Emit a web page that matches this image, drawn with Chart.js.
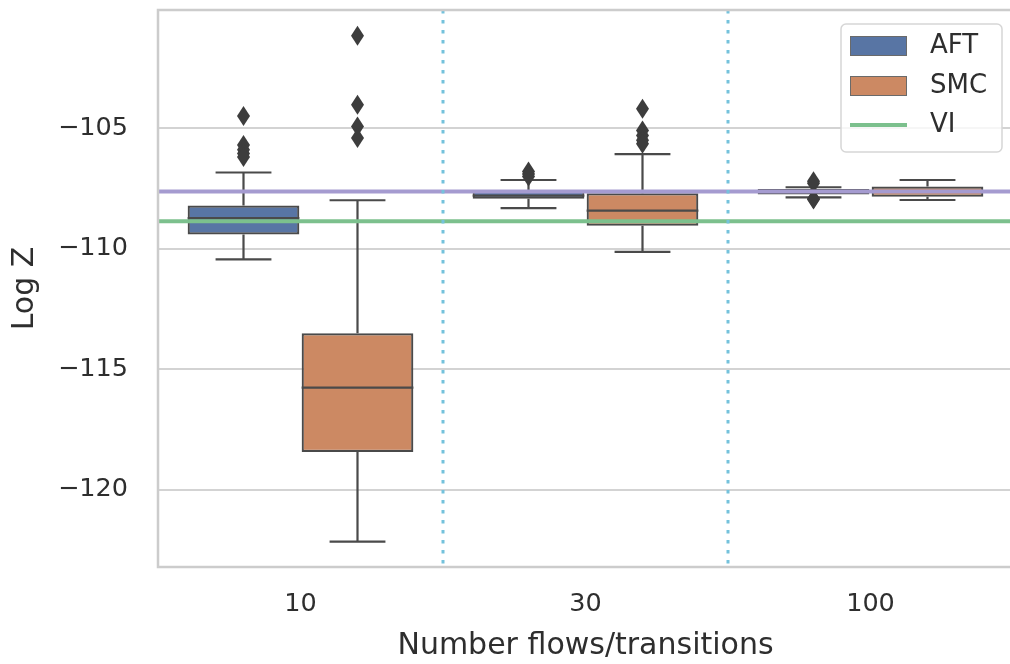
<!DOCTYPE html>
<html>
<head>
<meta charset="utf-8">
<script src="https://cdn.jsdelivr.net/npm/chart.js@4.4.1/dist/chart.umd.min.js"></script>
<style>
  html, body { margin: 0; padding: 0; background: #fff; overflow: hidden; }
  #wrap { width: 1016px; height: 664px; }
</style>
</head>
<body>
<div id="wrap"><canvas id="chart" width="1016" height="664"></canvas></div>
<script>
/* =========================
   DATA
========================= */
const categories = ["10", "30", "100"];
const seriesNames = ["AFT", "SMC"];
const yTicks = [-120, -115, -110, -105];

const aftLow    = [-110.44, -108.32, -107.87];
const aftQ1     = [-109.41, -107.93, -107.75];
const aftMedian = [-108.73, -107.80, -107.62];
const aftQ3     = [-108.21, -107.56, -107.52];
const aftHigh   = [-106.84, -107.15, -107.45];
const aftOutliers = [
  [-104.5, -105.7, -105.9, -106.05, -106.2],
  [-106.8, -106.9, -107.0],
  [-107.2, -107.28, -107.93, -107.96]
];

const smcLow    = [-122.15, -110.13, -107.98];
const smcQ1     = [-118.43, -109.05, -107.84];
const smcMedian = [-115.76, -108.42, -107.63];
const smcQ3     = [-113.51, -107.70, -107.42];
const smcHigh   = [-107.99, -106.08, -107.15];
const smcOutliers = [
  [-101.17, -104.03, -104.93, -105.41],
  [-104.2, -105.1, -105.3, -105.5, -105.65],
  []
];

const viValue = -108.86;     // green, in legend
const otherValue = -107.63;  // purple, no legend entry
const separators = [0.5, 1.5];

/* =========================
   STYLE
========================= */
const boxColors = ["#5875a4", "#cc8963"];
const lineGray = "#4a4a4a";
const fliersGray = "#3d3d3d";
const textColor = "#2e2e2e";
const font = "DejaVu Sans";

const stats = [
  { low: aftLow, q1: aftQ1, med: aftMedian, q3: aftQ3, high: aftHigh, out: aftOutliers },
  { low: smcLow, q1: smcQ1, med: smcMedian, q3: smcQ3, high: smcHigh, out: smcOutliers }
];

/* =========================
   BOX PLOT EXTRAS
========================= */
const boxExtras = {
  id: "boxExtras",
  afterDatasetsDraw(chart) {
    const { ctx, chartArea: a, scales: { x, y } } = chart;
    ctx.save();

    // whiskers, caps, medians, fliers
    stats.forEach((s, di) => {
      const meta = chart.getDatasetMeta(di);
      meta.data.forEach((bar, i) => {
        const cx = bar.x;
        const half = bar.width / 2;
        const pHigh = y.getPixelForValue(s.high[i]);
        const pLow = y.getPixelForValue(s.low[i]);
        ctx.strokeStyle = lineGray;
        ctx.lineWidth = 2.2;
        ctx.beginPath();
        ctx.moveTo(cx, y.getPixelForValue(s.q3[i]));
        ctx.lineTo(cx, pHigh);
        ctx.moveTo(cx, y.getPixelForValue(s.q1[i]));
        ctx.lineTo(cx, pLow);
        ctx.moveTo(cx - half / 2, pHigh);
        ctx.lineTo(cx + half / 2, pHigh);
        ctx.moveTo(cx - half / 2, pLow);
        ctx.lineTo(cx + half / 2, pLow);
        ctx.moveTo(cx - half, y.getPixelForValue(s.med[i]));
        ctx.lineTo(cx + half, y.getPixelForValue(s.med[i]));
        ctx.stroke();

        ctx.fillStyle = fliersGray;
        s.out[i].forEach(v => {
          const py = y.getPixelForValue(v);
          ctx.beginPath();
          ctx.moveTo(cx, py - 10);
          ctx.lineTo(cx + 6.5, py);
          ctx.lineTo(cx, py + 10);
          ctx.lineTo(cx - 6.5, py);
          ctx.closePath();
          ctx.fill();
        });
      });
    });

    // horizontal reference lines
    [[otherValue, "#a59bd0"], [viValue, "#7cc08d"]].forEach(([v, c]) => {
      const py = y.getPixelForValue(v);
      ctx.strokeStyle = c;
      ctx.lineWidth = 4;
      ctx.beginPath();
      ctx.moveTo(a.left, py);
      ctx.lineTo(a.right, py);
      ctx.stroke();
    });

    // dotted separators between categories
    ctx.strokeStyle = "#74c2dc";
    ctx.lineWidth = 3;
    ctx.setLineDash([3.5, 6.5]);
    separators.forEach(v => {
      const px = x.getPixelForValue(v);
      ctx.beginPath();
      ctx.moveTo(px, a.top);
      ctx.lineTo(px, a.bottom);
      ctx.stroke();
    });
    ctx.setLineDash([]);

    // spines
    ctx.strokeStyle = "#cccccc";
    ctx.lineWidth = 2.5;
    ctx.strokeRect(a.left, a.top, a.right - a.left, a.bottom - a.top);

    // legend
    const lx = 841, ly = 24, lw = 161, lh = 128;
    ctx.fillStyle = "rgba(255,255,255,0.8)";
    ctx.strokeStyle = "#d6d6d6";
    ctx.lineWidth = 1.5;
    ctx.beginPath();
    ctx.roundRect(lx, ly, lw, lh, 5);
    ctx.fill();
    ctx.stroke();

    ctx.font = "26px '" + font + "'";
    ctx.textBaseline = "middle";
    ctx.textAlign = "left";
    const rows = [46, 86, 125];
    seriesNames.forEach((name, i) => {
      ctx.fillStyle = boxColors[i];
      ctx.fillRect(850, rows[i] - 10, 57, 20);
      ctx.strokeStyle = "#6a6a6a";
      ctx.lineWidth = 1;
      ctx.strokeRect(850.5, rows[i] - 9.5, 56, 19);
      ctx.fillStyle = textColor;
      ctx.fillText(name, 930, rows[i]);
    });
    ctx.strokeStyle = "#7cc08d";
    ctx.lineWidth = 4;
    ctx.beginPath();
    ctx.moveTo(850, rows[2]);
    ctx.lineTo(907, rows[2]);
    ctx.stroke();
    ctx.fillStyle = textColor;
    ctx.fillText("VI", 930, rows[2]);

    ctx.restore();
  }
};

function noPad(s) {
  s.paddingTop = 0;
  s.paddingBottom = 0;
  s.paddingLeft = 0;
  s.paddingRight = 0;
}

/* =========================
   CHART
========================= */
new Chart(document.getElementById("chart"), {
  type: "bar",
  data: {
    labels: categories,
    datasets: stats.map((s, i) => ({
      label: seriesNames[i],
      data: categories.map((c, j) => [s.q1[j], s.q3[j]]),
      backgroundColor: boxColors[i],
      borderColor: lineGray,
      borderWidth: 2.2,
      borderSkipped: false,
      categoryPercentage: 0.8,
      barPercentage: 0.98
    }))
  },
  options: {
    responsive: false,
    animation: false,
    layout: { padding: { top: 10, right: 3, left: 0, bottom: 0 } },
    plugins: {
      legend: { display: false },
      tooltip: { enabled: false }
    },
    scales: {
      x: {
        grid: { display: false, drawTicks: false },
        border: { display: false },
        ticks: { color: textColor, font: { family: font, size: 25.5 }, padding: 22 },
        title: {
          display: true,
          text: "Number flows/transitions",
          color: textColor,
          font: { family: font, size: 30 },
          padding: { top: 0, bottom: 0 }
        },
        afterFit: s => { s.height = 97; noPad(s); }
      },
      y: {
        min: -123.2,
        max: -100.1,
        afterBuildTicks: s => { s.ticks = yTicks.map(v => ({ value: v })); },
        grid: { color: "#d3d3d3", lineWidth: 2, drawTicks: false },
        border: { display: false },
        ticks: {
          color: textColor,
          font: { family: font, size: 25.5 },
          padding: 30,
          callback: v => "\u2212" + Math.abs(v)
        },
        title: {
          display: true,
          text: "Log Z",
          color: textColor,
          font: { family: font, size: 30 },
          padding: { top: 7, bottom: 2 }
        },
        afterFit: s => { s.width = 158; noPad(s); }
      }
    }
  },
  plugins: [boxExtras]
});
</script>
</body>
</html>
